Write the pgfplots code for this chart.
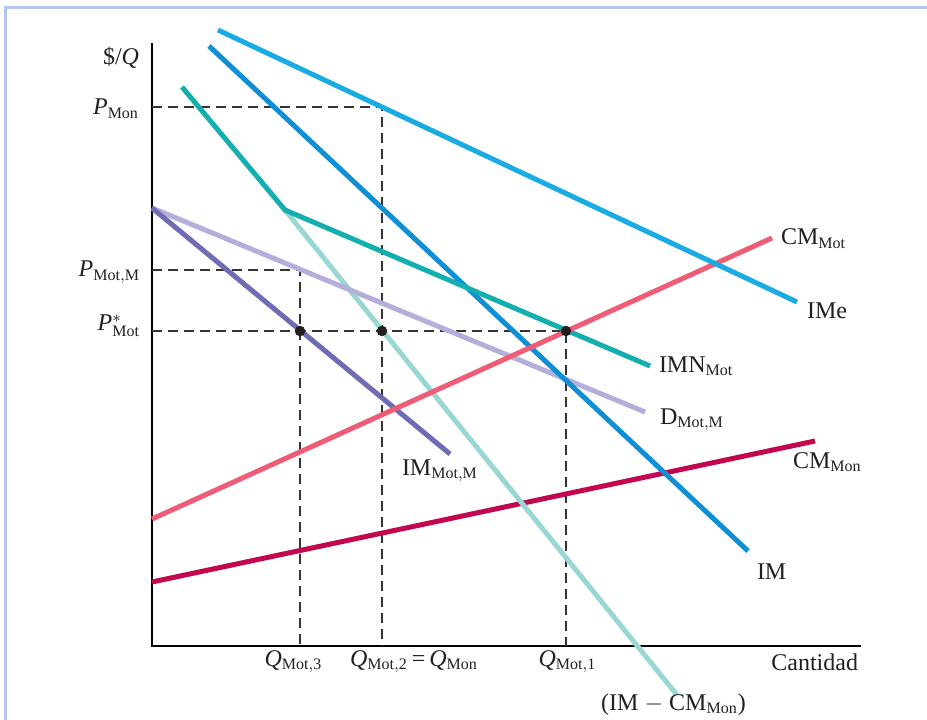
\documentclass[border=0pt]{standalone}
\usepackage{fontspec}
\setmainfont{Liberation Serif}
\usepackage{pgfplots}
\pgfplotsset{compat=1.18}
\definecolor{cIMe}{HTML}{19ACE4}
\definecolor{cIM}{HTML}{0E8FD6}
\definecolor{cIMN}{HTML}{12AEB0}
\definecolor{cDiff}{HTML}{99D8D2}
\definecolor{cD}{HTML}{B3AEDA}
\definecolor{cIMMM}{HTML}{6F6CB4}
\definecolor{cCMMot}{HTML}{EE5C76}
\definecolor{cCMMon}{HTML}{C2064F}
\definecolor{frame}{HTML}{B5C6EC}
\definecolor{txt}{HTML}{231F20}
\tikzset{lbl/.style={font=\fontsize{12}{14}\selectfont, text=txt, inner sep=0pt, outer sep=0pt}}
\begin{document}
\begin{tikzpicture}
\begin{axis}[
  scale only axis, width=463.5pt, height=359.5pt,
  xmin=-152, xmax=775, ymin=-73, ymax=646,
  axis lines=none, clip=false,
  curve/.style={line width=2.5pt, no marks},
  dash/.style={line width=0.7pt, color=black!80, dash pattern=on 5pt off 3pt, no marks},
]
% frame
\addplot[frame, line width=1.5pt, no marks] coordinates {(-147,-80) (-147,638) (780,638)};
% axes
\addplot[black, line width=0.8pt, no marks] coordinates {(0,603) (0,0) (709,0)};
% dashed guides
\addplot[dash] coordinates {(0,539) (230,539) (230,0)};
\addplot[dash] coordinates {(0,376) (148,376) (148,0)};
\addplot[dash] coordinates {(0,315) (414,315) (414,0)};
% curves
\addplot[curve, cCMMon] coordinates {(0,64) (663,205)};
\addplot[curve, cDiff] coordinates {(133,436) (525,-49)};
\addplot[curve, cD] coordinates {(0,438) (493,234)};
\addplot[curve, cIMMM] coordinates {(0,438) (298,192)};
\addplot[curve, cIM] coordinates {(57,600) (596,95)};
\addplot[curve, cIMN] coordinates {(30,559) (133,436) (498,280)};
\addplot[curve, cCMMot] coordinates {(0,127) (620,408)};
\addplot[curve, cIMe] coordinates {(66,616) (645,344)};
% points
\addplot[only marks, mark=*, mark size=2.4pt, color=txt] coordinates {(148,315) (230,315) (414,315)};
% labels
\node[lbl, anchor=base east] at (axis cs:-13,581) {\$/\textit{Q}};
\node[lbl, anchor=base east] at (axis cs:-13,531) {\textit{P}$_{\mathrm{Mon}}$};
\node[lbl, anchor=base east] at (axis cs:-12,369) {\textit{P}$_{\mathrm{Mot,M}}$};
\node[lbl, anchor=base east] at (axis cs:-12,315) {\textit{P}$^{*}_{\mathrm{Mot}}$};
\node[lbl, anchor=base] at (axis cs:141.5,-20) {\textit{Q}$_{\mathrm{Mot,3}}$};
\node[lbl, anchor=base] at (axis cs:262,-20) {\textit{Q}$_{\mathrm{Mot,2}}$\,=\,\textit{Q}$_{\mathrm{Mon}}$};
\node[lbl, anchor=base] at (axis cs:415.5,-20) {\textit{Q}$_{\mathrm{Mot,1}}$};
\node[lbl, anchor=base east] at (axis cs:706,-24) {Cantidad};
\node[lbl, anchor=base] at (axis cs:521.5,-64) {(IM $-$ CM$_{\mathrm{Mon}}$)};
\node[lbl, anchor=base west] at (axis cs:629,401) {CM$_{\mathrm{Mot}}$};
\node[lbl, anchor=base west] at (axis cs:655,328) {IMe};
\node[lbl, anchor=base west] at (axis cs:507,274) {IMN$_{\mathrm{Mot}}$};
\node[lbl, anchor=base west] at (axis cs:508,222) {D$_{\mathrm{Mot,M}}$};
\node[lbl, anchor=base west] at (axis cs:641,178) {CM$_{\mathrm{Mon}}$};
\node[lbl, anchor=base west] at (axis cs:250,171) {IM$_{\mathrm{Mot,M}}$};
\node[lbl, anchor=base west] at (axis cs:605,67) {IM};
\end{axis}
\pgfresetboundingbox
\useasboundingbox (0,0) rectangle (463.5pt,359.5pt);
\end{tikzpicture}
\end{document}
